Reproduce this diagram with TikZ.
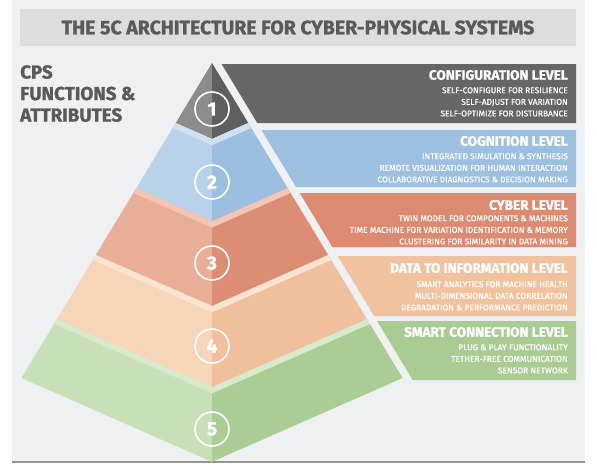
\documentclass[tikz,border=0pt]{standalone}
\usepackage{fontspec}
\setmainfont{Fira Sans}[BoldFeatures={FakeBold=1.2}]
\newfontfamily\itemfont{Fira Sans}[FakeBold=0.5]
\definecolor{panel}{HTML}{EEF0F2}
\definecolor{headband}{HTML}{DCDDDF}
\definecolor{inkgray}{HTML}{5A5A5A}
\definecolor{gA}{HTML}{8C8C8C}\definecolor{gB}{HTML}{5F5F5F}\definecolor{gBand}{HTML}{666666}
\definecolor{bA}{HTML}{B8D2EA}\definecolor{bB}{HTML}{9CBFE0}\definecolor{bS}{HTML}{CFE0F0}\definecolor{bBand}{HTML}{9DC0E1}
\definecolor{rA}{HTML}{E9AE96}\definecolor{rB}{HTML}{DC8D74}\definecolor{rS}{HTML}{F2C6B2}\definecolor{rBand}{HTML}{DD8B70}
\definecolor{oA}{HTML}{F6D5B9}\definecolor{oB}{HTML}{F0C09C}\definecolor{oS}{HTML}{FBE3CF}\definecolor{oBand}{HTML}{F0C39E}
\definecolor{vA}{HTML}{C8E0B8}\definecolor{vB}{HTML}{AACD95}\definecolor{vS}{HTML}{D8E9CC}\definecolor{vBand}{HTML}{A9CC93}
\begin{document}
\begin{tikzpicture}[x=1pt,y=-1pt,
  leveltitle/.style={anchor=east, inner sep=0pt, text=white, font=\bfseries\fontsize{13.6}{13.6}\selectfont},
  levelitems/.style={anchor=north east, inner sep=0pt, text=white, align=right, font=\itemfont\fontsize{8.4}{11.6}\selectfont},
  levelnum/.style={circle, draw=white, line width=1.6pt, text=white, minimum size=34pt, inner sep=0pt, font=\bfseries\fontsize{19}{19}\selectfont}]
  \useasboundingbox (0,0) rectangle (597,467);
  \fill[white] (0,0) rectangle (597,467);
  \fill[panel] (12,0) rectangle (585,461);
  \fill[gray!85] (12,461) rectangle (585,463);
  % heading
  \fill[headband] (20,9) rectangle (576,46);
  \node[inner sep=0pt, text=inkgray, font=\bfseries\fontsize{19.5}{19.5}\selectfont] (title) at (298,27.5) {THE 5C ARCHITECTURE FOR CYBER-PHYSICAL SYSTEMS};
  \node[anchor=north west, inner sep=0pt, align=left, text=inkgray, font=\bfseries\fontsize{18.8}{21.5}\selectfont] (cps) at (20,65) {CPS\\FUNCTIONS \&\\ATTRIBUTES};
  % pyramid, left and right halves
  \fill[gA] (212,63) -- (175.7,123) -- (212,139) -- cycle;
  \fill[gB] (212,63) -- (248.3,123) -- (212,139) -- cycle;
  \fill[bA] (175.7,123) -- (212,139) -- (212,221.3) -- (136.4,188) -- cycle;
  \fill[bB] (248.3,123) -- (212,139) -- (212,221.3) -- (287.6,188) -- cycle;
  \fill[rA] (136.4,188) -- (212,221.3) -- (212,306.1) -- (95.8,255) -- cycle;
  \fill[rB] (287.6,188) -- (212,221.3) -- (212,306.1) -- (328.2,255) -- cycle;
  \fill[oA] (95.8,255) -- (212,306.1) -- (212,387.1) -- (57.1,319) -- cycle;
  \fill[oB] (328.2,255) -- (212,306.1) -- (212,387.1) -- (366.9,319) -- cycle;
  \fill[vA] (57.1,319) -- (212,387.1) -- (212,461.8) -- (21.4,378) -- cycle;
  \fill[vB] (366.9,319) -- (212,387.1) -- (212,461.8) -- (402.6,378) -- cycle;
  % light seams on top of each layer
  \fill[bS] (175.7,123) -- (212,139) -- (248.3,123) -- (251.3,128) -- (212,145.3) -- (172.7,128) -- cycle;
  \fill[rS] (136.4,188) -- (212,221.3) -- (287.6,188) -- (290.6,193) -- (212,227.6) -- (133.4,193) -- cycle;
  \fill[oS] (95.8,255) -- (212,306.1) -- (328.2,255) -- (331.2,260) -- (212,312.4) -- (92.8,260) -- cycle;
  \fill[vS] (57.1,319) -- (212,387.1) -- (366.9,319) -- (369.9,324) -- (212,393.4) -- (54.1,324) -- cycle;
  % level bands
  \fill[gBand] (221.6,64) -- (576,64) -- (576,123) -- (257.3,123) -- cycle;
  \fill[bBand] (261.5,130) -- (576,130) -- (576,187) -- (296.0,187) -- cycle;
  \fill[rBand] (299.7,193) -- (576,193) -- (576,247) -- (332.3,247) -- cycle;
  \fill[oBand] (337.8,256) -- (576,256) -- (576,316) -- (374.1,316) -- cycle;
  \fill[vBand] (377.1,321) -- (576,321) -- (576,380) -- (412.8,380) -- cycle;
  % numbers
  \node[levelnum] (n1) at (212,109) {1};
  \node[levelnum] (n2) at (212,182) {2};
  \node[levelnum] (n3) at (212,263) {3};
  \node[levelnum] (n4) at (212,346) {4};
  \node[levelnum] (n5) at (212,429) {5};
  % band texts
  \node[leveltitle] (l1) at (568,75) {CONFIGURATION LEVEL};
  \node[levelitems] (d1) at (568,87.1) {SELF-CONFIGURE FOR RESILIENCE\\SELF-ADJUST FOR VARIATION\\SELF-OPTIMIZE FOR DISTURBANCE};
  \node[leveltitle] (l2) at (568,141) {COGNITION LEVEL};
  \node[levelitems] (d2) at (568,153.1) {INTEGRATED SIMULATION \& SYNTHESIS\\REMOTE VISUALIZATION FOR HUMAN INTERACTION\\COLLABORATIVE DIAGNOSTICS \& DECISION MAKING};
  \node[leveltitle] (l3) at (568,205) {CYBER LEVEL};
  \node[levelitems] (d3) at (568,215.1) {TWIN MODEL FOR COMPONENTS \& MACHINES\\TIME MACHINE FOR VARIATION IDENTIFICATION \& MEMORY\\CLUSTERING FOR SIMILARITY IN DATA MINING};
  \node[leveltitle] (l4) at (568,268) {DATA TO INFORMATION LEVEL};
  \node[levelitems] (d4) at (568,281.1) {SMART ANALYTICS FOR MACHINE HEALTH\\MULTI-DIMENSIONAL DATA CORRELATION\\DEGRADATION \& PERFORMANCE PREDICTION};
  \node[leveltitle] (l5) at (568,332) {SMART CONNECTION LEVEL};
  \node[levelitems] (d5) at (568,344.1) {PLUG \& PLAY FUNCTIONALITY\\TETHER-FREE COMMUNICATION\\SENSOR NETWORK};
\end{tikzpicture}
\end{document}
